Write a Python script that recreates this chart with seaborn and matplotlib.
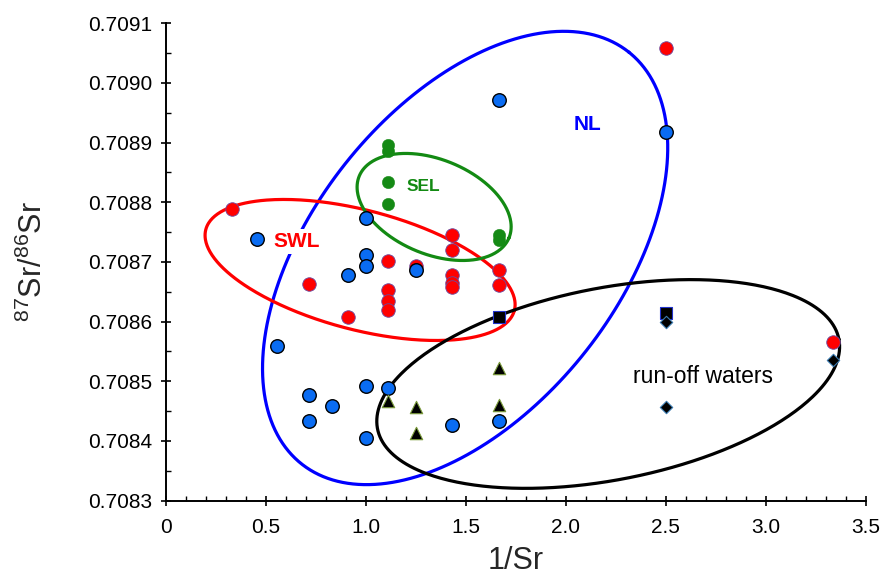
import numpy as np
import pandas as pd
import matplotlib
matplotlib.use("Agg")
import matplotlib.pyplot as plt
import seaborn as sns
from matplotlib.ticker import MultipleLocator, FormatStrFormatter

# ---------------- data ----------------
nl_x = [0.455, 0.556, 0.714, 0.714, 0.833, 0.909, 1.0, 1.0, 1.0, 1.0, 1.0,
        1.111, 1.25, 1.429, 1.667, 1.667, 2.5]
nl_y = [0.708738, 0.708559, 0.708476, 0.708433, 0.708459, 0.708678, 0.708773,
        0.708711, 0.708693, 0.708492, 0.708404, 0.708488, 0.708686, 0.708427,
        0.708971, 0.708434, 0.708918]

swl_x = [0.333, 0.714, 0.909, 1.111, 1.111, 1.111, 1.111, 1.25, 1.429, 1.429,
         1.429, 1.429, 1.429, 1.667, 1.667, 2.5, 3.333]
swl_y = [0.708788, 0.708663, 0.708608, 0.708701, 0.708653, 0.708634, 0.708619,
         0.708693, 0.708745, 0.708720, 0.708678, 0.708664, 0.708658, 0.708686,
         0.708661, 0.709059, 0.708566]

sel_x = [1.111, 1.111, 1.111, 1.111, 1.667, 1.667]
sel_y = [0.708896, 0.708885, 0.708834, 0.708797, 0.708745, 0.708737]

tri_x = [1.111, 1.25, 1.25, 1.667, 1.667]
tri_y = [0.708466, 0.708457, 0.708413, 0.708522, 0.708460]

sq_x = [1.667, 2.5]
sq_y = [0.708607, 0.708614]

dia_x = [2.5, 2.5, 3.333]
dia_y = [0.708600, 0.708457, 0.708535]

x_ticks = [0, 0.5, 1.0, 1.5, 2.0, 2.5, 3.0, 3.5]
x_ticklabels = ["0", "0.5", "1.0", "1.5", "2.0", "2.5", "3.0", "3.5"]

# group ellipses: centre (data), semi-axes (pixels), angle (deg), colour
ellipses = [
    dict(cx=1.4965, cy=0.7087065, a=263, b=152.5, ang=51.5, color="#0000ff"),
    dict(cx=0.9715, cy=0.7086864, a=159.5, b=59.7, ang=-14.7, color="#ff0000"),
    dict(cx=1.3415, cy=0.7087920, a=81, b=47.3, ang=-22.4, color="#138a13"),
    dict(cx=2.2115, cy=0.7084953, a=235, b=96, ang=11.0, color="#000000"),
]

labels = [
    dict(t="NL", x=2.11, y=0.708931, color="#0000ff", w="bold", s=15),
    dict(t="SEL", x=1.29, y=0.708827, color="#138a13", w="bold", s=12.5),
    dict(t="SWL", x=0.655, y=0.708734, color="#ff0000", w="bold", s=15),
    dict(t="run-off waters", x=2.683, y=0.708508, color="black", w="normal", s=16.5),
]

# ---------------- plot ----------------
sns.set_theme(style="white")
plt.rcParams["font.family"] = ["Liberation Sans", "DejaVu Sans"]
plt.rcParams["mathtext.fontset"] = "custom"
plt.rcParams["mathtext.rm"] = "Liberation Sans"

fig = plt.figure(figsize=(8.8, 5.83), dpi=100)
ax = fig.add_axes([0.1883, 0.1415, 0.7958, 0.8187])
ax.set_xlim(0, 3.5)
ax.set_ylim(0.7083, 0.7091)

# ellipses (drawn in pixel space around data centres)
fig.canvas.draw()
t = np.linspace(0, 2 * np.pi, 400)
for e in ellipses:
    c = ax.transData.transform((e["cx"], e["cy"]))
    th = np.deg2rad(e["ang"])
    px = c[0] + e["a"] * np.cos(t) * np.cos(th) - e["b"] * np.sin(t) * np.sin(th)
    py = c[1] + e["a"] * np.cos(t) * np.sin(th) + e["b"] * np.sin(t) * np.cos(th)
    pts = ax.transData.inverted().transform(np.column_stack([px, py]))
    ax.plot(pts[:, 0], pts[:, 1], color=e["color"], lw=2.3, zorder=2,
            solid_capstyle="round")

for lb in labels:
    kw = {}
    if lb["t"] == "SWL":
        kw["bbox"] = dict(facecolor="white", edgecolor="none", pad=2)
    ax.text(lb["x"], lb["y"], lb["t"], color=lb["color"], fontweight=lb["w"],
            fontsize=lb["s"], ha="center", va="center", zorder=3, **kw)

sns.scatterplot(x=swl_x, y=swl_y, ax=ax, color="#ff0000", edgecolor="#6a4aa0",
                linewidth=0.6, s=95, marker="o", zorder=4)
sns.scatterplot(x=sel_x, y=sel_y, ax=ax, color="#158a15", edgecolor="#158a15",
                linewidth=0.3, s=80, marker="o", zorder=4)
sns.scatterplot(x=nl_x, y=nl_y, ax=ax, color="#0a6cf2", edgecolor="black",
                linewidth=1.0, s=95, marker="o", zorder=5)
sns.scatterplot(x=tri_x, y=tri_y, ax=ax, color="black", edgecolor="#7a9a3a",
                linewidth=0.8, s=80, marker="^", zorder=5)
sns.scatterplot(x=sq_x, y=sq_y, ax=ax, color="black", edgecolor="#2233cc",
                linewidth=0.8, s=70, marker="s", zorder=5)
sns.scatterplot(x=dia_x, y=dia_y, ax=ax, color="black", edgecolor="#3a7ab0",
                linewidth=0.8, s=40, marker="D", zorder=5)

# axes styling
for side in ["top", "right"]:
    ax.spines[side].set_visible(False)
for side in ["left", "bottom"]:
    ax.spines[side].set_color("black")
    ax.spines[side].set_linewidth(1.4)

ax.set_xticks(x_ticks)
ax.set_xticklabels(x_ticklabels)
ax.xaxis.set_minor_locator(MultipleLocator(0.1))
ax.yaxis.set_major_locator(MultipleLocator(0.0001))
ax.yaxis.set_minor_locator(MultipleLocator(0.00005))
ax.yaxis.set_major_formatter(FormatStrFormatter("%.4f"))
ax.tick_params(which="major", direction="inout", length=7.5, width=1.2,
               colors="black", labelsize=15, pad=6)
ax.tick_params(axis="x", which="major", pad=9)
ax.tick_params(which="minor", direction="in", length=3.8, width=1.0, colors="black")
ax.tick_params(bottom=True, left=True, which="both")

ax.set_xlabel("1/Sr", fontsize=22, labelpad=6)
ax.set_ylabel(r"$^{87}$Sr/$^{86}$Sr", fontsize=22, labelpad=28)
ax.grid(False)

fig.savefig("out.png", dpi=100)
